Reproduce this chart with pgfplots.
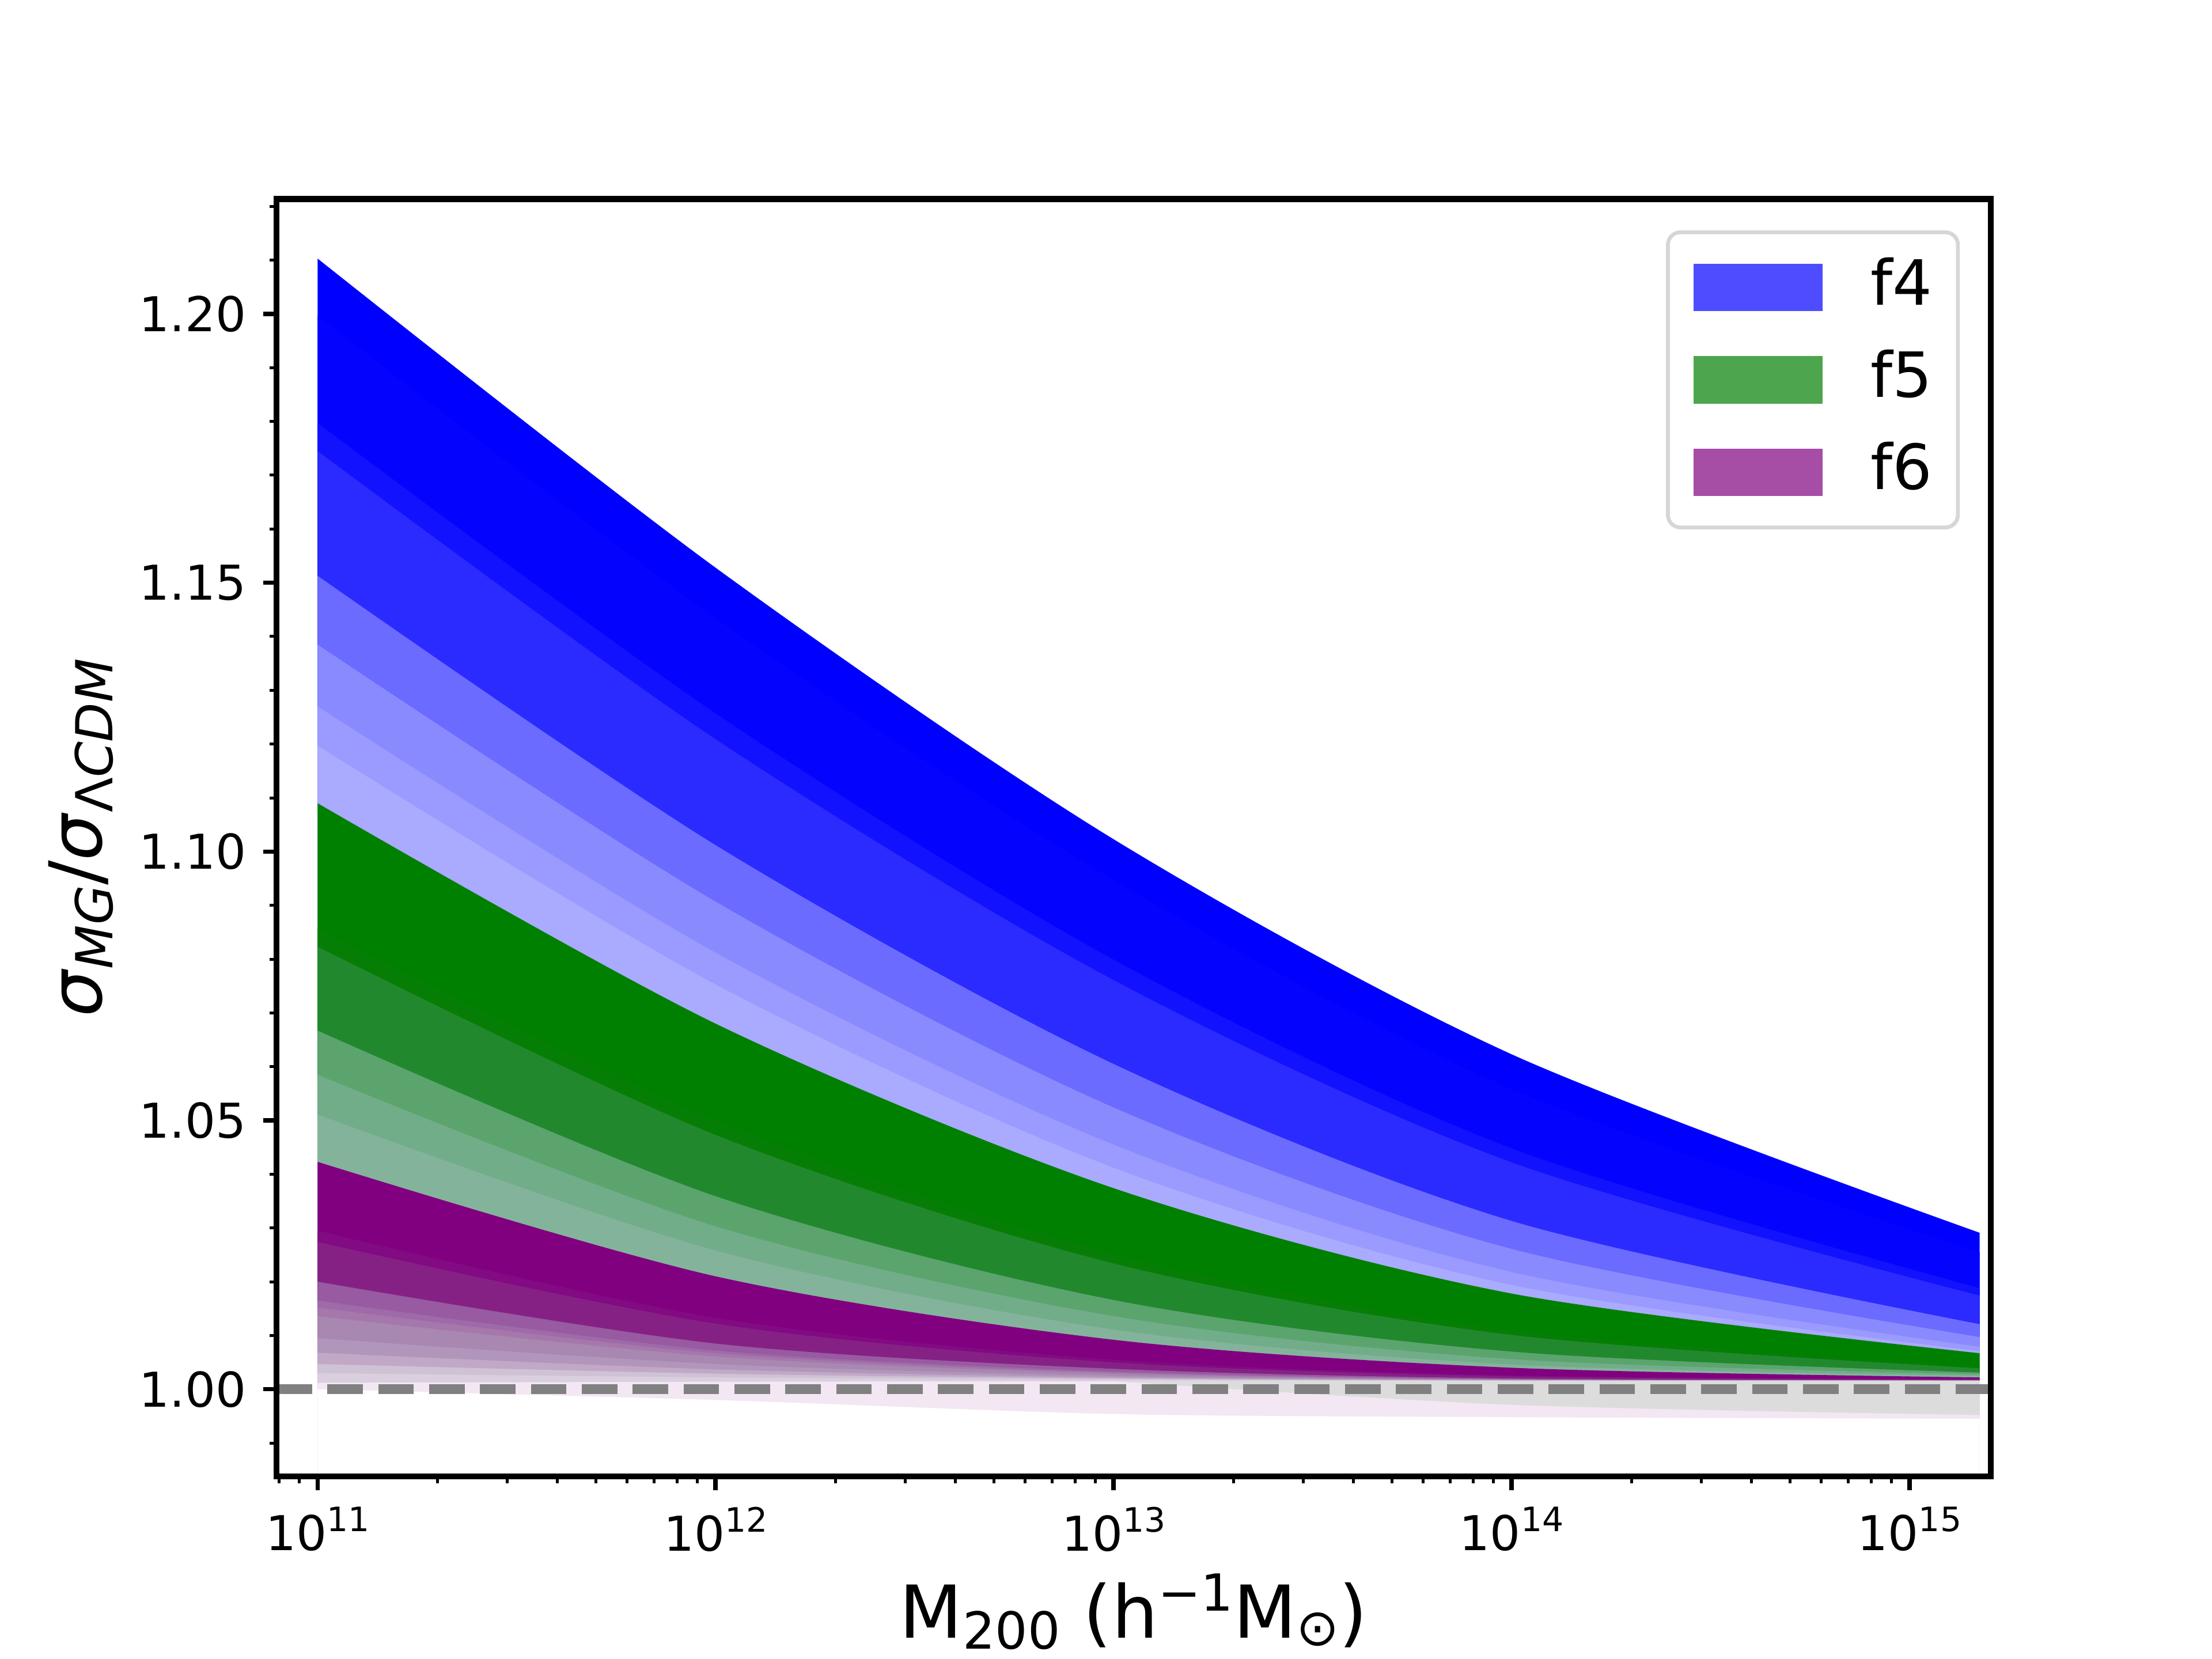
\documentclass[border=0pt]{standalone}
\usepackage{fontspec}
\setmainfont{DejaVu Sans}
\usepackage{pgfplots}
\pgfplotsset{compat=1.18}
\definecolor{cB1}{HTML}{0000FF}
\definecolor{cB2}{HTML}{0404FE}
\definecolor{cB3}{HTML}{1212FF}
\definecolor{cB4}{HTML}{2B2BFF}
\definecolor{cB5}{HTML}{6B6BFF}
\definecolor{cB6}{HTML}{8A8AFF}
\definecolor{cB7}{HTML}{9A9AFF}
\definecolor{cB8}{HTML}{AAAAFF}
\definecolor{cG1}{HTML}{008000}
\definecolor{cG2}{HTML}{067E06}
\definecolor{cG3}{HTML}{22882E}
\definecolor{cG4}{HTML}{5BA46E}
\definecolor{cG5}{HTML}{72AD89}
\definecolor{cG6}{HTML}{83B49B}
\definecolor{cP1}{HTML}{800080}
\definecolor{cP2}{HTML}{820A82}
\definecolor{cP3}{HTML}{852185}
\definecolor{cP4}{HTML}{985AA0}
\definecolor{cP5}{HTML}{9E6AA9}
\definecolor{cP6}{HTML}{A677AB}
\definecolor{cP7}{HTML}{A887B1}
\definecolor{cP8}{HTML}{B195BB}
\definecolor{cP9}{HTML}{C0A8C6}
\definecolor{cP10}{HTML}{CFC2D5}
\definecolor{cP11}{HTML}{DACFDF}
\definecolor{cP12}{HTML}{F3E7F3}
\definecolor{cGray}{HTML}{DCDCDC}
\definecolor{f4leg}{HTML}{4D4DFF}
\definecolor{f5leg}{HTML}{4DA64D}
\definecolor{f6leg}{HTML}{A64DA6}
\definecolor{legframe}{HTML}{D6D6D6}
\definecolor{dashgray}{HTML}{808080}
\newcommand{\tp}[1]{10\raisebox{4.0pt}{\fontsize{7}{8}\selectfont #1}}
\newcommand{\lsub}[1]{\raisebox{-2.3pt}{\fontsize{10.64}{12}\selectfont #1}}
\newcommand{\lsubo}[1]{\raisebox{-1.6pt}{\fontsize{10.64}{12}\selectfont #1}}
\newcommand{\lsup}[1]{\raisebox{5.6pt}{\fontsize{10.64}{12}\selectfont #1}}
\newcommand{\band}[2]{\addplot[draw=none, fill=#1, smooth, forget plot] coordinates {#2} \closedcycle;}
\begin{document}
\begin{tikzpicture}
\begin{axis}[
  scale only axis, width=357.12pt, height=266.11pt,
  at={(0,0)}, anchor=south west,
  xmode=log, xmin=7.89e10, xmax=1.6e15, ymin=0.98377, ymax=1.22136,
  axis on top,
  axis line style={line width=1.25pt},
  tick align=outside, tick pos=left,
  major tick length=2.8pt, minor tick length=1.4pt,
  major tick style={line width=0.9pt, black},
  minor tick style={line width=0.6pt, black},
  xtick={1e11,1e12,1e13,1e14,1e15},
  xticklabels={\tp{11},\tp{12},\tp{13},\tp{14},\tp{15}},
  minor xtick={8e10,9e10,2e11,3e11,4e11,5e11,6e11,7e11,8e11,9e11,2e12,3e12,4e12,5e12,6e12,7e12,8e12,9e12,2e13,3e13,4e13,5e13,6e13,7e13,8e13,9e13,2e14,3e14,4e14,5e14,6e14,7e14,8e14,9e14},
  ytick={1.00,1.05,1.10,1.15,1.20},
  minor ytick={0.99,1.01,1.02,1.03,1.04,1.06,1.07,1.08,1.09,1.11,1.12,1.13,1.14,1.16,1.17,1.18,1.19,1.21,1.22},
  yticklabel style={/pgf/number format/.cd, fixed, fixed zerofill, precision=2},
  /pgf/number format/assume math mode=true,
  tick label style={font=\fontsize{10}{12}\selectfont},
  xlabel={M\lsub{200} (h\lsup{−1}M\lsubo{⊙})},
  xlabel style={font=\fontsize{15.2}{18}\selectfont, at={(axis description cs:0.5,0)}, anchor=base, yshift=-33.6pt},
  ylabel={\textit{σ}\lsub{\textit{MG}}/\textit{σ}\lsub{Λ\textit{CDM}}},
  ylabel style={font=\fontsize{15.2}{18}\selectfont, at={(axis description cs:-0.114,0.5)}, anchor=center},
  legend style={at={(0.9819,0.9755)}, anchor=north east, draw=legframe, line width=0.8pt,
    rounded corners=2.6pt, fill=white, inner xsep=5.28pt, inner ysep=5.2pt,
    row sep=6.64pt, column sep=10.1pt, font=\fontsize{13}{15}\selectfont,
    nodes={inner sep=0pt, text height=9.9pt, text depth=2.7pt}, cells={anchor=west}},
]
% f4 bands
\band{cB1}{(1e11,1.2103) (1e12,1.1528) (1e13,1.1023) (1e14,1.0623) (1.5e15,1.0291)}
\band{cB2}{(1e11,1.1997) (1e12,1.1434) (1e13,1.0947) (1e14,1.0558) (1.5e15,1.0255)}
\band{cB3}{(1e11,1.1797) (1e12,1.1257) (1e13,1.0799) (1e14,1.0448) (1.5e15,1.0188)}
\band{cB4}{(1e11,1.1745) (1e12,1.1209) (1e13,1.0761) (1e14,1.0422) (1.5e15,1.0174)}
\band{cB5}{(1e11,1.1513) (1e12,1.1012) (1e13,1.0605) (1e14,1.0313) (1.5e15,1.0121)}
\band{cB6}{(1e11,1.1385) (1e12,1.0907) (1e13,1.0524) (1e14,1.0261) (1.5e15,1.0097)}
\band{cB7}{(1e11,1.1270) (1e12,1.0812) (1e13,1.0455) (1e14,1.0218) (1.5e15,1.0079)}
\band{cB8}{(1e11,1.1197) (1e12,1.0753) (1e13,1.0412) (1e14,1.0194) (1.5e15,1.0071)}
% f5 bands
\band{cG1}{(1e11,1.1090) (1e12,1.0680) (1e13,1.0374) (1e14,1.0178) (1.5e15,1.0067)}
\band{cG2}{(1e11,1.0857) (1e12,1.0500) (1e13,1.0252) (1e14,1.0110) (1.5e15,1.0042)}
\band{cG3}{(1e11,1.0823) (1e12,1.0473) (1e13,1.0234) (1e14,1.0101) (1.5e15,1.0039)}
\band{cG4}{(1e11,1.0667) (1e12,1.0359) (1e13,1.0166) (1e14,1.0070) (1.5e15,1.0031)}
\band{cG5}{(1e11,1.0585) (1e12,1.0303) (1e13,1.0136) (1e14,1.0056) (1.5e15,1.0028)}
\band{cG6}{(1e11,1.0511) (1e12,1.0258) (1e13,1.0111) (1e14,1.0046) (1.5e15,1.0025)}
% f6 bands
\band{cP1}{(1e11,1.0423) (1e12,1.0210) (1e13,1.0092) (1e14,1.0040) (1.5e15,1.0022)}
\band{cP2}{(1e11,1.0295) (1e12,1.0133) (1e13,1.0055) (1e14,1.0026) (1.5e15,1.0019)}
\band{cP3}{(1e11,1.0274) (1e12,1.0122) (1e13,1.0050) (1e14,1.0024) (1.5e15,1.0018)}
\band{cP4}{(1e11,1.0200) (1e12,1.0085) (1e13,1.0038) (1e14,1.0020) (1.5e15,1.0017)}
\band{cP5}{(1e11,1.0165) (1e12,1.0072) (1e13,1.0033) (1e14,1.0019) (1.5e15,1.0017)}
\band{cP6}{(1e11,1.0152) (1e12,1.0067) (1e13,1.0031) (1e14,1.0018) (1.5e15,1.0017)}
\band{cP7}{(1e11,1.0136) (1e12,1.0061) (1e13,1.0029) (1e14,1.0018) (1.5e15,1.0016)}
\band{cP8}{(1e11,1.0095) (1e12,1.0047) (1e13,1.0025) (1e14,1.0017) (1.5e15,1.0016)}
\band{cP9}{(1e11,1.0068) (1e12,1.0037) (1e13,1.0022) (1e14,1.0017) (1.5e15,1.0016)}
\band{cP10}{(1e11,1.0047) (1e12,1.0029) (1e13,1.0020) (1e14,1.0016) (1.5e15,1.0016)}
\band{cP11}{(1e11,1.0030) (1e12,1.0022) (1e13,1.0018) (1e14,1.0016) (1.5e15,1.0015)}
\band{cP12}{(1e11,1.0012) (1e12,1.0014) (1e13,1.0015) (1e14,1.0015) (1.5e15,1.0015)}
% grey and pale regions below unity
\band{cGray}{(1e13,1.0015) (1e14,1.0016) (1.5e15,1.0016)}
\band{cP12}{(1e13,1.0015) (1e14,0.9971) (1.5e15,0.9952)}
\band{white}{(1e11,1.0000) (1e12,0.9980) (1e13,0.9954) (1e14,0.9948) (1.5e15,0.9945)}
% reference line
\addplot[dashgray, line width=2pt, dash pattern=on 7.4pt off 3.2pt, forget plot] coordinates {(7.89e10,1) (1.6e15,1)};
% legend
\addlegendimage{legend image code/.code={\fill[f4leg, sharp corners] (0pt,-4.55pt) rectangle (26.1pt,4.55pt);}}
\addlegendentry{f4}
\addlegendimage{legend image code/.code={\fill[f5leg, sharp corners] (0pt,-4.55pt) rectangle (26.1pt,4.55pt);}}
\addlegendentry{f5}
\addlegendimage{legend image code/.code={\fill[f6leg, sharp corners] (0pt,-4.55pt) rectangle (26.1pt,4.55pt);}}
\addlegendentry{f6}
\end{axis}
\pgfresetboundingbox
\useasboundingbox (-57.6pt,-38.016pt) rectangle (403.2pt,307.584pt);
\end{tikzpicture}
\end{document}
